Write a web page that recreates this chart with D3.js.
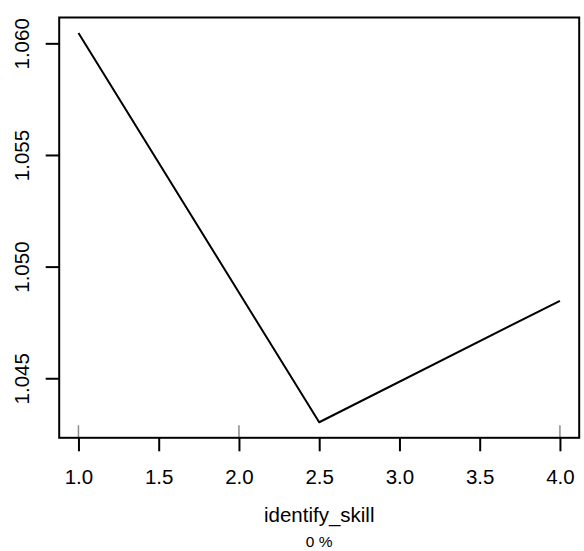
<!DOCTYPE html>
<html>
<head>
<meta charset="utf-8">
<script src="https://cdn.jsdelivr.net/npm/d3@7"></script>
<style>
  html, body { margin: 0; padding: 0; background: #fff; }
  svg { display: block; }
  text { font-family: "Liberation Sans", Arial, sans-serif; fill: #000; }
</style>
</head>
<body>
<script>
// Data
const xValues = [1.0, 2.5, 4.0];
const yValues = [1.06046, 1.04303, 1.04847];
const rugValues = [1.0, 2.0, 4.0];
const xTicks = [1.0, 1.5, 2.0, 2.5, 3.0, 3.5, 4.0];
const yTicks = [1.045, 1.050, 1.055, 1.060];
const xLabel = "identify_skill";
const subLabel = "0 %";

const W = 584, H = 551;
const mLeft = 59.2, mRight = 579.2, mTop = 17.5, mBottom = 437.8;

function expand(ext) {
  const r = ext[1] - ext[0];
  return [ext[0] - 0.04 * r, ext[1] + 0.04 * r];
}

const x = d3.scaleLinear().domain(expand(d3.extent(xValues))).range([mLeft, mRight]);
const y = d3.scaleLinear().domain(expand(d3.extent(yValues))).range([mBottom, mTop]);

const svg = d3.select("body").append("svg").attr("width", W).attr("height", H);

// Rug
svg.append("g").selectAll("line").data(rugValues).join("line")
  .attr("x1", d => x(d)).attr("x2", d => x(d))
  .attr("y1", mBottom).attr("y2", mBottom - 12.5)
  .attr("stroke", "#8c8c8c").attr("stroke-width", 1.5);

// Line
const line = d3.line().x((d, i) => x(xValues[i])).y(d => y(d));
svg.append("path").datum(yValues)
  .attr("d", line).attr("fill", "none")
  .attr("stroke", "#000").attr("stroke-width", 2)
  .attr("stroke-linejoin", "round");

// X axis
const xAxis = d3.axisBottom(x).tickValues(xTicks).tickSize(13.5).tickPadding(0)
  .tickFormat(d3.format(".1f"));
const gx = svg.append("g").attr("transform", `translate(0,${mBottom})`).call(xAxis);
gx.select(".domain").remove();
gx.selectAll(".tick line").attr("stroke", "#000").attr("stroke-width", 2);
gx.selectAll(".tick text").attr("font-size", "20.5px")
  .attr("font-family", "Liberation Sans, Arial, sans-serif")
  .attr("dy", null).attr("y", 484.3 - mBottom);

// Y axis
const yAxis = d3.axisLeft(y).tickValues(yTicks).tickSize(13.5).tickFormat(d3.format(".3f"));
const gy = svg.append("g").attr("transform", `translate(${mLeft},0)`).call(yAxis);
gy.select(".domain").remove();
gy.selectAll(".tick line").attr("stroke", "#000").attr("stroke-width", 2);
gy.selectAll(".tick text")
  .attr("font-size", "20.5px")
  .attr("font-family", "Liberation Sans, Arial, sans-serif")
  .attr("x", null).attr("dy", null)
  .attr("text-anchor", "middle")
  .attr("transform", `translate(${28.5 - mLeft},0) rotate(-90)`);

// Box
svg.append("rect").attr("x", mLeft).attr("y", mTop)
  .attr("width", mRight - mLeft).attr("height", mBottom - mTop)
  .attr("fill", "none").attr("stroke", "#000").attr("stroke-width", 2);

// Labels
svg.append("text").attr("x", (mLeft + mRight) / 2).attr("y", 521.7)
  .attr("text-anchor", "middle").attr("font-size", "20.5px").text(xLabel);
svg.append("text").attr("x", (mLeft + mRight) / 2).attr("y", 547)
  .attr("text-anchor", "middle").attr("font-size", "15.5px").text(subLabel);
</script>
</body>
</html>
